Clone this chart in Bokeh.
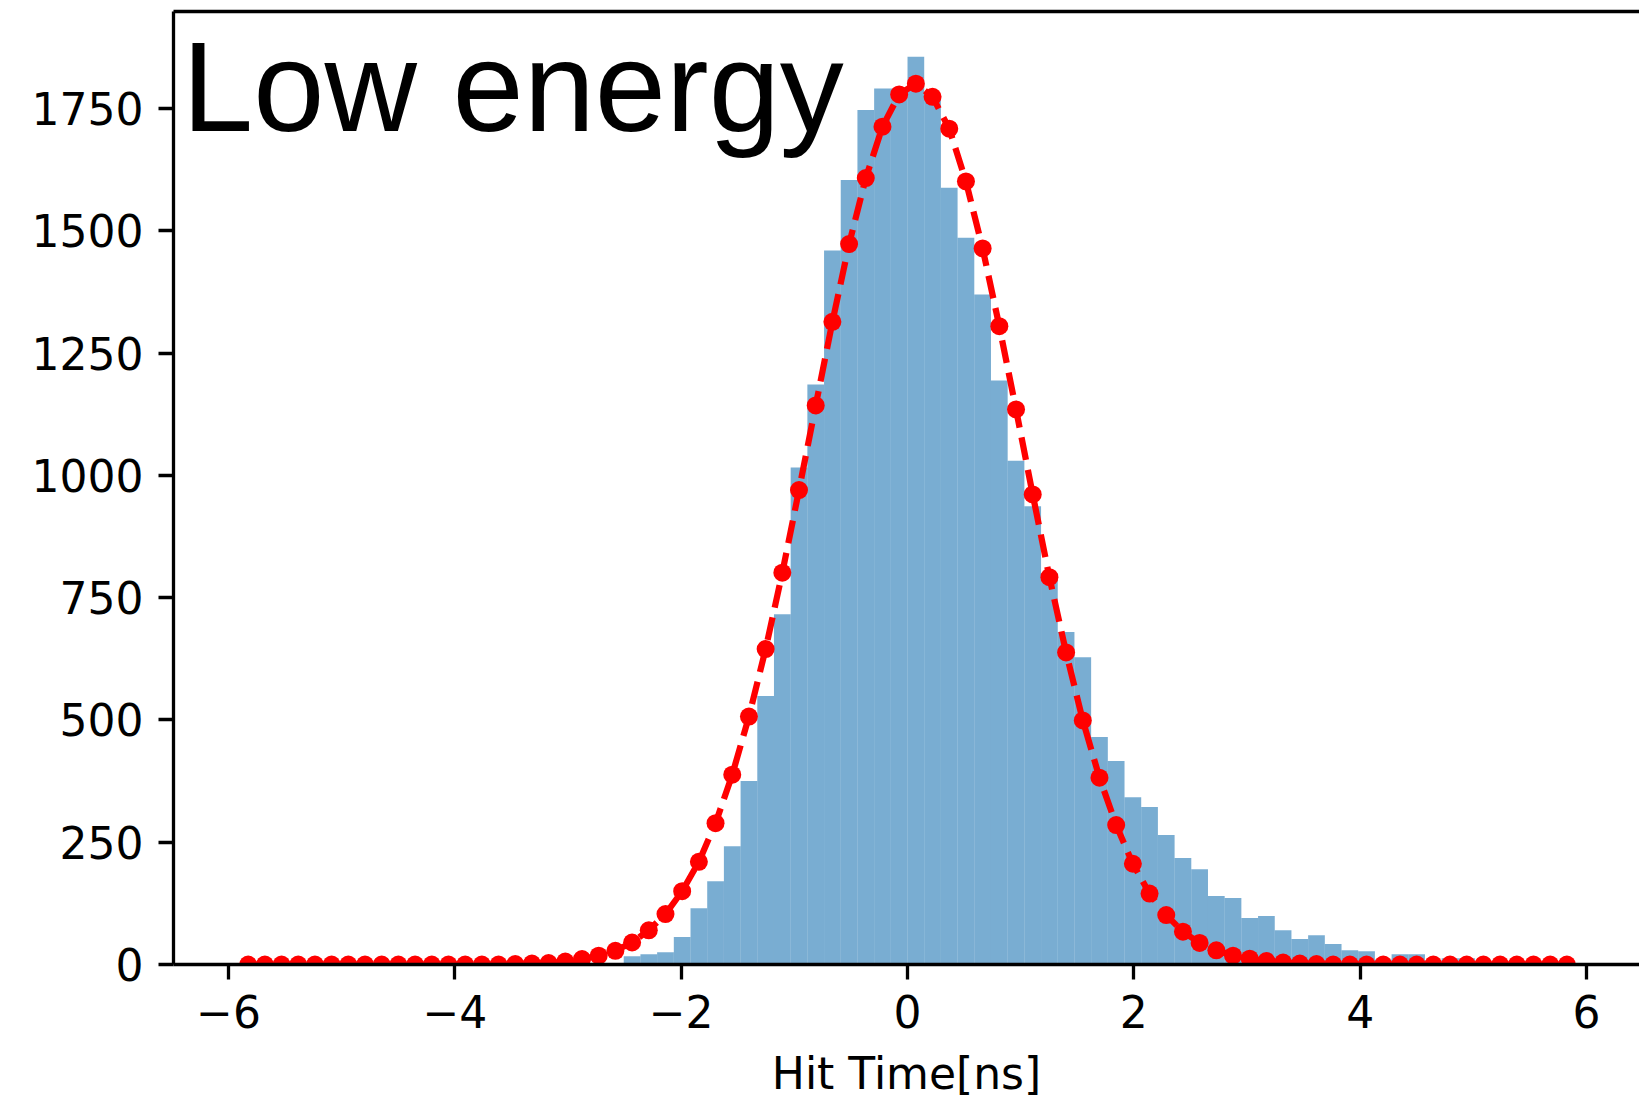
import numpy as np
from bokeh.plotting import figure
from bokeh.models import ColumnDataSource, FixedTicker, LinearAxis, Label, Range1d
from bokeh.embed import file_html
from bokeh.resources import INLINE

# ---- data ----
# histogram binning: 80 equal bins over [-5.9, 5.9]
bin_lo, bin_hi, n_bins = -5.9, 5.9, 80

# histogram counts per bin (bins 0..79)
counts = [0] * 23 + [
    17, 21, 25, 56, 115, 170, 242, 375, 549, 716,
    1016, 1186, 1460, 1604, 1747, 1791, 1791, 1856, 1770, 1588,
    1486, 1370, 1194, 1030, 937, 800, 680, 628, 465, 416,
    342, 322, 265, 218, 195, 140, 136, 95, 99, 70,
    52, 60, 42, 29, 27, 10, 21, 21, 8, 13, 13,
] + [0] * 6

# fitted curve evaluated at bin centres
fit = [0] * 16 + [
    1, 2, 3, 6, 11, 18, 28, 45, 70, 103,
    150, 210, 289, 388, 507, 645, 801, 970, 1143, 1314,
    1473, 1608, 1713, 1779, 1801, 1774, 1709, 1601, 1464, 1305,
    1135, 961, 792, 638, 499, 382, 285, 206, 145, 101,
    67, 44, 29, 18, 12, 7, 4, 2, 1,
] + [0] * 15

x_ticks = [-6, -4, -2, 0, 2, 4, 6]
y_ticks = [0, 250, 500, 750, 1000, 1250, 1500, 1750]
title_text = "Low energy"
x_label = "Hit Time[ns]"

# ---- build ----
edges = np.linspace(bin_lo, bin_hi, n_bins + 1)
centers = (edges[:-1] + edges[1:]) / 2

hist_src = ColumnDataSource(dict(left=edges[:-1], right=edges[1:],
                                 top=counts, bottom=[0] * n_bins))
fit_src = ColumnDataSource(dict(x=centers, y=fit))

p = figure(frame_width=1466, frame_height=953,
           x_range=Range1d(-6.486, 6.468), y_range=Range1d(0, 1948.5),
           output_backend="svg", toolbar_location=None,
           min_border_left=173, min_border_right=0,
           min_border_top=11, min_border_bottom=0)
p.outline_line_color = None
p.xgrid.visible = False
p.ygrid.visible = False
p.background_fill_color = "white"
p.border_fill_color = "white"

p.quad(left="left", right="right", top="top", bottom="bottom", source=hist_src,
       fill_color="#1f77b4", fill_alpha=0.6, line_color=None)
p.line("x", "y", source=fit_src, line_color="#ff0000", line_width=6.25,
       line_dash="23 10")
p.scatter("x", "y", source=fit_src, size=18, fill_color="#ff0000",
          line_color=None)

p.xaxis.ticker = FixedTicker(ticks=x_ticks)
p.yaxis.ticker = FixedTicker(ticks=y_ticks)
p.xaxis.major_label_overrides = {t: (("\u2212" + str(-t)) if t < 0 else str(t)) for t in x_ticks}

for ax in (p.xaxis[0], p.yaxis[0]):
    ax.axis_line_width = 3.3
    ax.axis_line_color = "black"
    ax.major_tick_line_width = 3.3
    ax.major_tick_line_color = "black"
    ax.major_tick_out = 15
    ax.major_tick_in = 0
    ax.minor_tick_out = 0
    ax.minor_tick_in = 0
    ax.major_label_text_font = "DejaVu Sans"
    ax.major_label_text_font_size = "44px"
    ax.major_label_text_color = "black"
    ax.major_label_standoff = 15

p.xaxis.axis_label = x_label
p.xaxis.axis_label_text_font = "DejaVu Sans"
p.xaxis.axis_label_text_font_size = "44px"
p.xaxis.axis_label_text_font_style = "normal"
p.xaxis.axis_label_text_color = "black"
p.xaxis.axis_label_standoff = 17

top_axis = LinearAxis(ticker=FixedTicker(ticks=[]), axis_line_width=3.3,
                      axis_line_color="black", major_tick_out=0, major_tick_in=0,
                      minor_tick_out=0, minor_tick_in=0,
                      major_label_text_font_size="0px", major_label_standoff=0)
p.add_layout(top_axis, "above")

p.add_layout(Label(x=-6.41, y=1796, text=title_text,
                   text_font="Liberation Sans", text_font_size="128px",
                   text_baseline="alphabetic", text_color="black"))

open("out.html", "w").write(file_html(p, INLINE))
